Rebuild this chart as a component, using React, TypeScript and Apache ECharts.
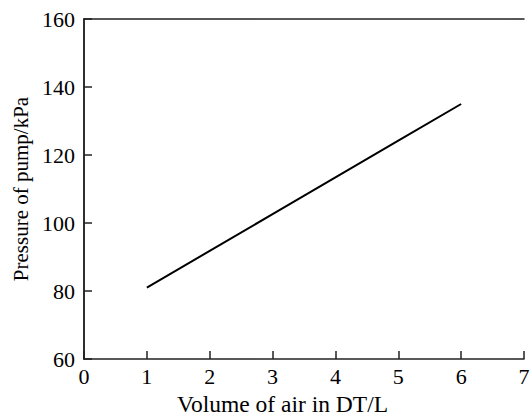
import React, { useEffect, useRef } from "react";
import * as echarts from "echarts";

const volume = [1, 2, 3, 4, 5, 6];
const pressure = [81, 91.8, 102.6, 113.4, 124.2, 135];
const xTicks = [0, 1, 2, 3, 4, 5, 6, 7];
const yTicks = [60, 80, 100, 120, 140, 160];

const FONT = "'Liberation Serif', 'DejaVu Serif', serif";

export default function App() {
  const ref = useRef<HTMLDivElement>(null);
  useEffect(() => {
    if (!ref.current) return;
    const chart = echarts.init(ref.current, null, { renderer: "svg" });
    const axisColor = "#222";
    chart.setOption({
      animation: false,
      grid: { left: 84, right: 6, top: 19, bottom: 55, containLabel: false, outerBoundsMode: "none" },
      xAxis: [
        {
          type: "value",
          min: xTicks[0],
          max: xTicks[xTicks.length - 1],
          interval: 1,
          name: "Volume of air in DT/L",
          nameLocation: "middle",
          nameGap: 25,
          nameTextStyle: { fontFamily: FONT, fontSize: 23.5, color: "#000", padding: [0, 43, 0, 0] },
          axisLine: { show: true, lineStyle: { color: axisColor, width: 1.5 } },
          axisTick: { show: true, inside: true, length: 8, lineStyle: { color: axisColor, width: 1.5 } },
          axisLabel: { fontFamily: FONT, fontSize: 22, color: "#000", margin: 6 },
          splitLine: { show: false },
        },
        {
          type: "value",
          position: "top",
          min: xTicks[0],
          max: xTicks[xTicks.length - 1],
          axisLine: { show: true, lineStyle: { color: axisColor, width: 1.5 } },
          axisTick: { show: false },
          axisLabel: { show: false },
          splitLine: { show: false },
        },
      ],
      yAxis: [
        {
          type: "value",
          min: yTicks[0],
          max: yTicks[yTicks.length - 1],
          interval: 20,
          name: "Pressure of pump/kPa",
          nameLocation: "middle",
          nameGap: 48,
          nameTextStyle: { fontFamily: FONT, fontSize: 21, color: "#000" },
          axisLine: { show: true, lineStyle: { color: axisColor, width: 1.5 } },
          axisTick: { show: true, inside: true, length: 8, lineStyle: { color: axisColor, width: 1.5 } },
          axisLabel: { fontFamily: FONT, fontSize: 22, color: "#000", margin: 9 },
          splitLine: { show: false },
        },
        {
          type: "value",
          position: "right",
          min: yTicks[0],
          max: yTicks[yTicks.length - 1],
          axisLine: { show: true, lineStyle: { color: axisColor, width: 1.5 } },
          axisTick: { show: false },
          axisLabel: { show: false },
          splitLine: { show: false },
        },
      ],
      series: [
        {
          type: "line",
          data: volume.map((v, i) => [v, pressure[i]]),
          showSymbol: false,
          lineStyle: { color: "#000", width: 2 },
        },
      ],
    });
    return () => chart.dispose();
  }, []);
  return (
    <div
      ref={ref}
      style={{ position: "absolute", left: 0, top: 0, width: 530, height: 414, background: "#fff" }}
    />
  );
}
